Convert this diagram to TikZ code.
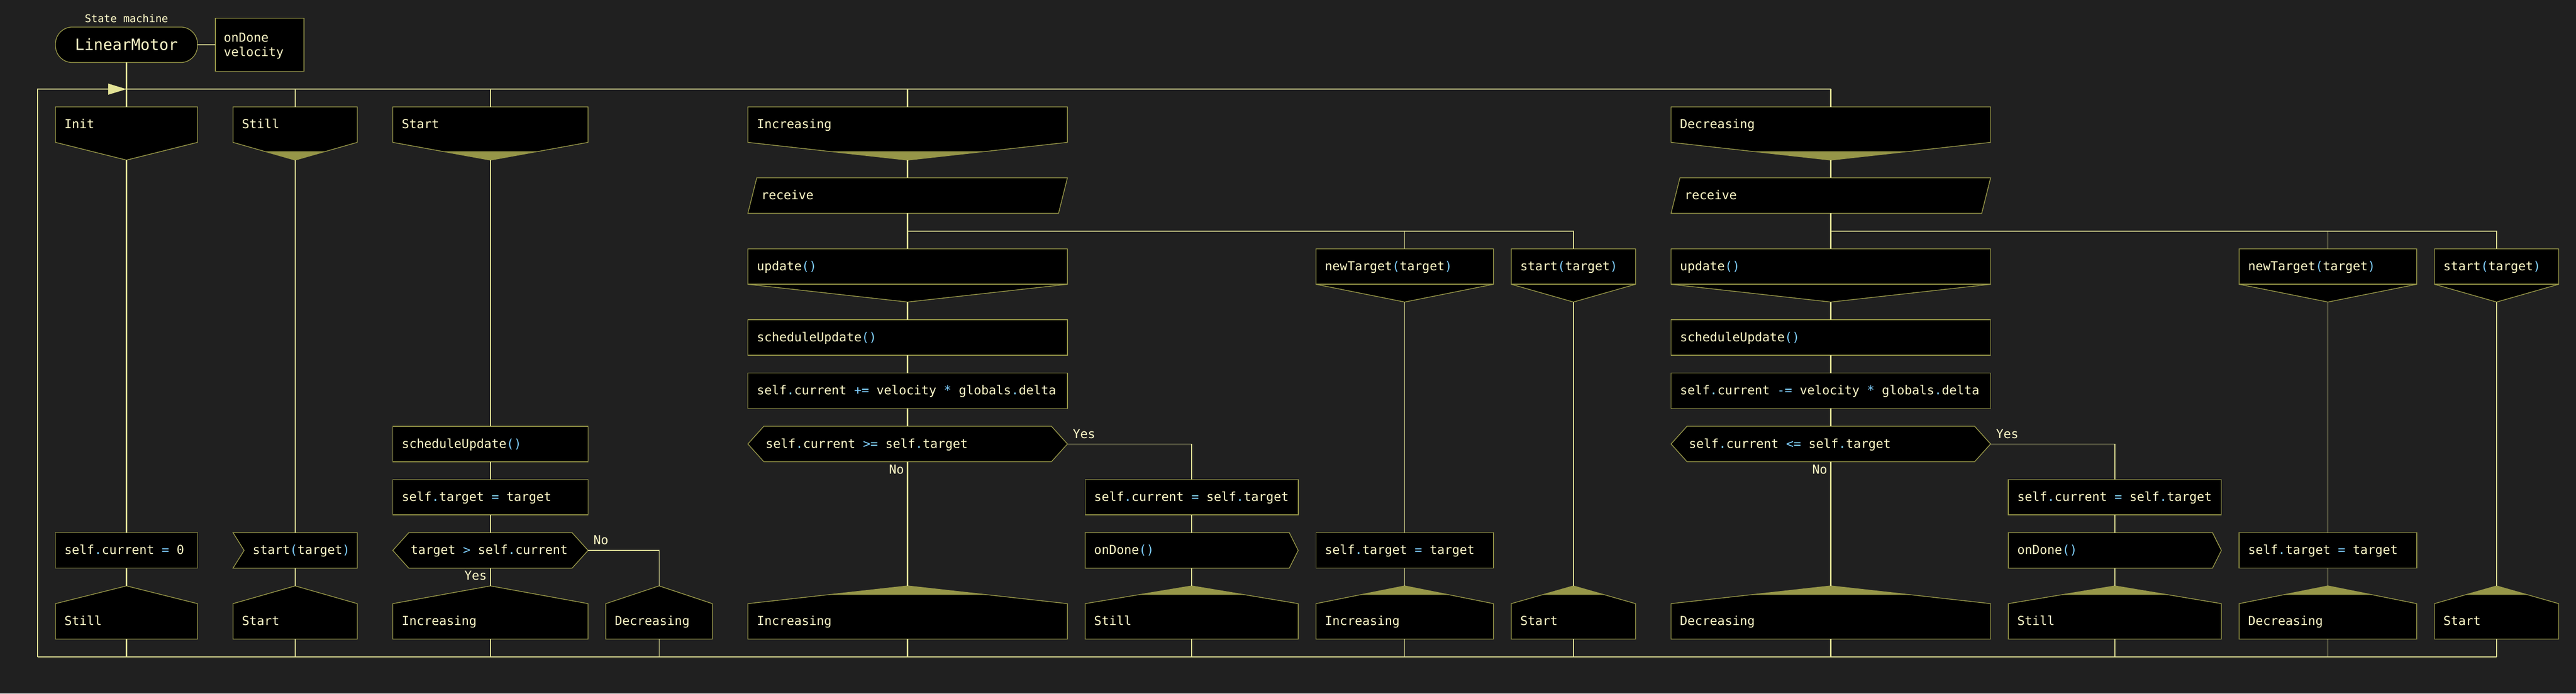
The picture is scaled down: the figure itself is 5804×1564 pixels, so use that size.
\documentclass[tikz,border=0pt]{standalone}
\usepackage{fontspec}
\usetikzlibrary{calc}
\newfontfamily\cmono{DejaVu Sans Mono}
\definecolor{bgc}{RGB}{32,32,32}
\definecolor{brd}{RGB}{150,150,72}
\definecolor{lnc}{RGB}{226,226,150}
\definecolor{txc}{RGB}{255,250,200}
\definecolor{opc}{RGB}{128,208,255}
\newcommand\hlop[1]{\textcolor{opc}{#1}}

% name, L, T, W, H, text
\newcommand\RectBox[6]{%
  \node[rp, minimum width=#4pt, minimum height=#5pt] (#1) at ({#2+#4/2},{#3+#5/2}) {};
  \draw[bx] (#1.north west) rectangle (#1.south east);
  \node[txt] (#1-t) at ({#2+20},{#3+#5/2+9}) {#6};
}
% name, L, T, W, kind (0 plain, 1 filled tip, 2 inner line), text
\newcommand\HdrBox[6]{%
  \node[rp, minimum width=#4pt, minimum height=80pt] (#1) at ({#2+#4/2},{#3+40}) {};
  \coordinate (#1-tip) at ({#2+#4/2},{#3+120});
  \draw[bx] (#1.north west) -- (#1.north east) -- (#1.south east) -- (#1-tip) -- (#1.south west) -- cycle;
  \ifcase#5\or
    \fill[brd] ({#2+#4/4},{#3+100}) -- ({#2+3*#4/4},{#3+100}) -- (#1-tip) -- cycle;
  \or
    \draw[bl] (#1.south west) -- (#1.south east);
  \fi
  \node[txt] (#1-t) at ({#2+20},{#3+49}) {#6};
}
% name, L, T(peak), W, filled?, text
\newcommand\TermBox[6]{%
  \node[rp, minimum width=#4pt, minimum height=80pt] (#1) at ({#2+#4/2},{#3+80}) {};
  \coordinate (#1-top) at ({#2+#4/2},{#3});
  \draw[bx] (#1.south west) -- (#1.north west) -- (#1-top) -- (#1.north east) -- (#1.south east) -- cycle;
  \ifnum#5=1
    \fill[brd] ({#2+#4/4},{#3+20}) -- (#1-top) -- ({#2+3*#4/4},{#3+20}) -- cycle;
  \fi
  \node[txt] (#1-t) at ({#2+20},{#3+89}) {#6};
}
% name, L, T, W, text
\newcommand\DecBox[5]{%
  \node[rp, minimum width=#4pt, minimum height=80pt] (#1) at ({#2+#4/2},{#3+40}) {};
  \draw[bx] (#1.west) -- ($(#1.north west)+(36,0)$) -- ($(#1.north east)+(-36,0)$) -- (#1.east)
     -- ($(#1.south east)+(-36,0)$) -- ($(#1.south west)+(36,0)$) -- cycle;
  \node[txt] (#1-t) at ({#2+40},{#3+49}) {#5};
}
\newcommand\RecvBox[5]{%
  \node[rp, minimum width=#4pt, minimum height=80pt] (#1) at ({#2+#4/2},{#3+40}) {};
  \draw[bx] ($(#1.north west)+(20,0)$) -- (#1.north east) -- ($(#1.south east)+(-20,0)$) -- (#1.south west) -- cycle;
  \node[txt] (#1-t) at ({#2+30},{#3+49}) {#5};
}
\newcommand\EventBox[5]{%
  \node[rp, minimum width=#4pt, minimum height=80pt] (#1) at ({#2+#4/2},{#3+40}) {};
  \draw[bx] (#1.north west) -- (#1.north east) -- (#1.south east) -- (#1.south west) -- ($(#1.west)+(25,0)$) -- cycle;
  \node[txt] (#1-t) at ({#2+44},{#3+49}) {#5};
}
\newcommand\SendBox[5]{%
  \node[rp, minimum width=#4pt, minimum height=80pt] (#1) at ({#2+#4/2},{#3+40}) {};
  \draw[bx] (#1.north west) -- ($(#1.north east)+(-20,0)$) -- (#1.east) -- ($(#1.south east)+(-20,0)$) -- (#1.south west) -- cycle;
  \node[txt] (#1-t) at ({#2+20},{#3+49}) {#5};
}
% prefix, offset, state, op, cmp
\newcommand\RunSection[5]{%
  \HdrBox{#1h}{1685+#2}{241}{720}{1}{#3}
  \RecvBox{#1r}{1685+#2}{401}{720}{receive}
  \HdrBox{#1u}{1685+#2}{561}{720}{2}{update\hlop{()}}
  \RectBox{#1s}{1685+#2}{721}{720}{80}{scheduleUpdate\hlop{()}}
  \RectBox{#1c}{1685+#2}{841}{720}{80}{self\hlop{.}current \hlop{#4} velocity \hlop{*} globals\hlop{.}delta}
  \DecBox{#1d}{1685+#2}{961}{720}{self\hlop{.}current \hlop{#5} self\hlop{.}target}
  \RectBox{#1e}{2445+#2}{1081}{480}{80}{self\hlop{.}current \hlop{=} self\hlop{.}target}
  \SendBox{#1o}{2445+#2}{1201}{480}{onDone\hlop{()}}
  \HdrBox{#1n}{2965+#2}{561}{400}{2}{newTarget\hlop{(}target\hlop{)}}
  \RectBox{#1a}{2965+#2}{1201}{400}{80}{self\hlop{.}target \hlop{=} target}
  \HdrBox{#1g}{3405+#2}{561}{280}{2}{start\hlop{(}target\hlop{)}}
  \TermBox{#1t}{1685+#2}{1321}{720}{1}{#3}
  \TermBox{#1v}{2445+#2}{1321}{480}{1}{Still}
  \TermBox{#1w}{2965+#2}{1321}{400}{1}{#3}
  \TermBox{#1x}{3405+#2}{1321}{280}{1}{Start}
  \node[txt] (#1yes) at ({2405+#2+12},988) {Yes};
  \node[txt, anchor=base east] (#1no) at ({2045+#2-8},1068) {No};
  \coordinate (#1br) at ({2045+#2},521);
  \draw[spine] (#1h-tip) -- (#1r.north);
  \draw[spine] (#1r.south) -- (#1u.north);
  \draw[thin] (#1br) -| (#1g.north);
  \draw[thin] (#1br -| #1n.north) -- (#1n.north);
  \draw[spine] (#1u-tip) -- (#1s.north);
  \draw[spine] (#1s.south) -- (#1c.north);
  \draw[spine] (#1c.south) -- (#1d.north);
  \draw[spine] (#1d.south) -- (#1t-top);
  \draw[thin] (#1d.east) -| (#1e.north);
  \draw[thin] (#1e.south) -- (#1o.north);
  \draw[thin] (#1o.south) -- (#1v-top);
  \draw[thin] (#1n-tip) -- (#1a.north);
  \draw[thin] (#1a.south) -- (#1w-top);
  \draw[med] (#1g-tip) -- (#1x-top);
  \draw[spine] (#1t.south) -- (#1t.south |- lpB);
  \draw[thin] (#1v.south) -- (#1v.south |- lpB);
  \draw[thin] (#1w.south) -- (#1w.south |- lpB);
  \draw[med] (#1x.south) -- (#1x.south |- lpB);
}

\begin{document}
\begin{tikzpicture}[x=1pt,y=-1pt,
  bx/.style={draw=brd, line width=1.7pt, fill=black, line join=miter},
  bl/.style={draw=brd, line width=1.7pt},
  rp/.style={rectangle, inner sep=0pt, outer sep=0pt},
  spine/.style={draw=lnc, line width=3pt},
  thin/.style={draw=lnc, line width=1.7pt},
  med/.style={draw=lnc, line width=2.4pt},
  txt/.style={text=txc, font=\cmono\fontsize{28}{34}\selectfont, inner sep=0pt, anchor=base west}]
\fill[bgc] (0,0) rectangle (5804,1564);
\useasboundingbox (0,0) rectangle (5804,1564);

\coordinate (lpT) at (85,201);
\coordinate (lpB) at (85,1481);

% title and machine
\node[txt, anchor=base, font=\cmono\fontsize{24}{29}\selectfont] (smlbl) at (285,50) {State machine};
\node[rp, minimum width=320pt, minimum height=80pt] (lm) at (285,101) {};
\draw[bx, rounded corners=38pt] (lm.north west) rectangle (lm.south east);
\node[txt, anchor=base, font=\cmono\fontsize{35}{42}\selectfont] (lm-t) at (285,113) {LinearMotor};
\node[rp, minimum width=200pt, minimum height=120pt] (note) at (585,101) {};
\draw[bx] (note.north west) rectangle (note.south east);
\node[txt] (note-a) at (504,95) {onDone};
\node[txt] (note-b) at (504,127) {velocity};
\draw[thin] (lm.east) -- (note.west);

% columns 1-3
\HdrBox{init}{125}{241}{320}{0}{Init}
\HdrBox{stillh}{525}{241}{280}{1}{Still}
\HdrBox{starth}{885}{241}{440}{1}{Start}
\RectBox{c1a}{125}{1201}{320}{80}{self\hlop{.}current \hlop{=} 0}
\TermBox{c1t}{125}{1321}{320}{0}{Still}
\EventBox{c2a}{525}{1201}{280}{start\hlop{(}target\hlop{)}}
\TermBox{c2t}{525}{1321}{280}{0}{Start}
\RectBox{c3a}{885}{961}{440}{80}{scheduleUpdate\hlop{()}}
\RectBox{c3b}{885}{1081}{440}{80}{self\hlop{.}target \hlop{=} target}
\DecBox{c3d}{885}{1201}{440}{target \hlop{>} self\hlop{.}current}
\TermBox{c3t}{885}{1321}{440}{0}{Increasing}
\TermBox{c3u}{1365}{1321}{240}{0}{Decreasing}
\node[txt] (c3no) at (1337,1228) {No};
\node[txt, anchor=base east] (c3yes) at (1097,1308) {Yes};

\RunSection{i}{0}{Increasing}{+=}{>=}
\RunSection{d}{2080}{Decreasing}{-=}{<=}

% loop bus
\draw[thin] (lpB) -- (lpT) -| (dh.north);
\draw[thin] (lpB) -- (dx.south |- lpB);
\fill[lnc] (lm.south |- lpT) -- ++(-41,-12.5) -- ++(0,25) -- cycle;
\draw[spine] (lm.south) -- (init.north);
\draw[spine] (stillh.north |- lpT) -- (stillh.north);
\draw[spine] (starth.north |- lpT) -- (starth.north);
\draw[spine] (ih.north |- lpT) -- (ih.north);
\draw[spine] (dh.north |- lpT) -- (dh.north);

% column connectors
\draw[spine] (init-tip) -- (c1a.north);
\draw[spine] (c1a.south) -- (c1t-top);
\draw[spine] (stillh-tip) -- (c2a.north);
\draw[spine] (c2a.south) -- (c2t-top);
\draw[spine] (starth-tip) -- (c3a.north);
\draw[spine] (c3a.south) -- (c3b.north);
\draw[spine] (c3b.south) -- (c3d.north);
\draw[spine] (c3d.south) -- (c3t-top);
\draw[thin] (c3d.east) -| (c3u-top);
\draw[spine] (c1t.south) -- (c1t.south |- lpB);
\draw[spine] (c2t.south) -- (c2t.south |- lpB);
\draw[spine] (c3t.south) -- (c3t.south |- lpB);
\draw[thin] (c3u.south) -- (c3u.south |- lpB);
\end{tikzpicture}
\end{document}
